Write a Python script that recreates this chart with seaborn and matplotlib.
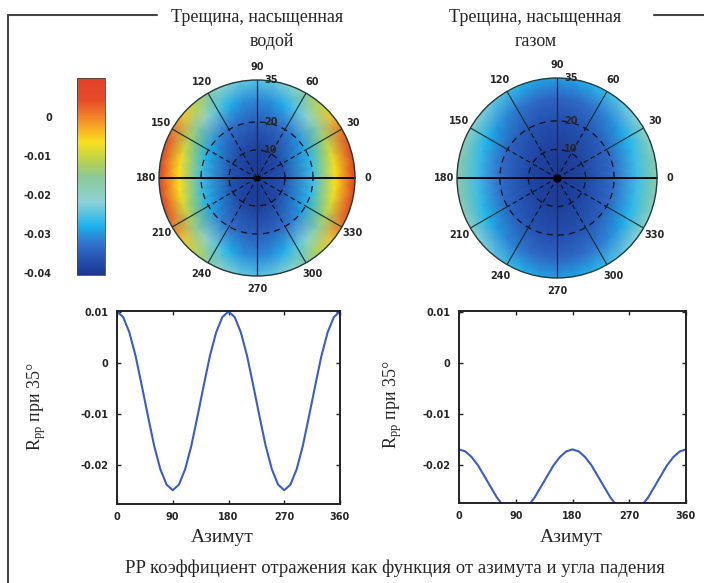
import matplotlib
matplotlib.use("Agg")
import matplotlib.pyplot as plt
import matplotlib.transforms as mtransforms
from matplotlib.cm import ScalarMappable
from matplotlib.colors import LinearSegmentedColormap, Normalize
from matplotlib.lines import Line2D
import numpy as np
import seaborn as sns

# azimuth grid (deg) and incidence rings (deg)
azimuth = list(range(0, 361, 10))
incidence = [0, 10, 20, 28, 35]

# water-saturated crack: Rpp at the pole and along each incidence ring
water_center = -0.040
water_r10 = [-0.0360, -0.0361, -0.0364, -0.0368, -0.0372, -0.0378, -0.0383, -0.0386, -0.0389, -0.0390,
             -0.0389, -0.0386, -0.0383, -0.0378, -0.0372, -0.0368, -0.0364, -0.0361, -0.0360,
             -0.0361, -0.0364, -0.0368, -0.0372, -0.0378, -0.0383, -0.0386, -0.0389, -0.0390,
             -0.0389, -0.0386, -0.0383, -0.0378, -0.0372, -0.0368, -0.0364, -0.0361, -0.0360]
water_r20 = [-0.0260, -0.0263, -0.0271, -0.0283, -0.0297, -0.0313, -0.0328, -0.0339, -0.0347, -0.0350,
             -0.0347, -0.0339, -0.0328, -0.0313, -0.0297, -0.0283, -0.0271, -0.0263, -0.0260,
             -0.0263, -0.0271, -0.0283, -0.0297, -0.0313, -0.0328, -0.0339, -0.0347, -0.0350,
             -0.0347, -0.0339, -0.0328, -0.0313, -0.0297, -0.0283, -0.0271, -0.0263, -0.0260]
water_r28 = [-0.0060, -0.0068, -0.0089, -0.0123, -0.0163, -0.0207, -0.0248, -0.0281, -0.0303, -0.0310,
             -0.0303, -0.0281, -0.0248, -0.0207, -0.0163, -0.0123, -0.0089, -0.0068, -0.0060,
             -0.0068, -0.0089, -0.0123, -0.0163, -0.0207, -0.0248, -0.0281, -0.0303, -0.0310,
             -0.0303, -0.0281, -0.0248, -0.0207, -0.0163, -0.0123, -0.0089, -0.0068, -0.0060]
water_r35 = [0.0100, 0.0089, 0.0059, 0.0013, -0.0045, -0.0105, -0.0163, -0.0209, -0.0239, -0.0250,
             -0.0239, -0.0209, -0.0163, -0.0105, -0.0045, 0.0013, 0.0059, 0.0089, 0.0100,
             0.0089, 0.0059, 0.0013, -0.0045, -0.0105, -0.0163, -0.0209, -0.0239, -0.0250,
             -0.0239, -0.0209, -0.0163, -0.0105, -0.0045, 0.0013, 0.0059, 0.0089, 0.0100]

# gas-saturated crack
gas_center = -0.040
gas_r10 = [-0.0380, -0.0380, -0.0381, -0.0383, -0.0384, -0.0386, -0.0388, -0.0389, -0.0390, -0.0390,
           -0.0390, -0.0389, -0.0388, -0.0386, -0.0384, -0.0383, -0.0381, -0.0380, -0.0380,
           -0.0380, -0.0381, -0.0383, -0.0384, -0.0386, -0.0388, -0.0389, -0.0390, -0.0390,
           -0.0390, -0.0389, -0.0388, -0.0386, -0.0384, -0.0383, -0.0381, -0.0380, -0.0380]
gas_r20 = [-0.0330, -0.0331, -0.0335, -0.0340, -0.0347, -0.0353, -0.0360, -0.0365, -0.0369, -0.0370,
           -0.0369, -0.0365, -0.0360, -0.0353, -0.0347, -0.0340, -0.0335, -0.0331, -0.0330,
           -0.0331, -0.0335, -0.0340, -0.0347, -0.0353, -0.0360, -0.0365, -0.0369, -0.0370,
           -0.0369, -0.0365, -0.0360, -0.0353, -0.0347, -0.0340, -0.0335, -0.0331, -0.0330]
gas_r28 = [-0.0260, -0.0262, -0.0269, -0.0280, -0.0293, -0.0307, -0.0320, -0.0331, -0.0338, -0.0340,
           -0.0338, -0.0331, -0.0320, -0.0307, -0.0293, -0.0280, -0.0269, -0.0262, -0.0260,
           -0.0262, -0.0269, -0.0280, -0.0293, -0.0307, -0.0320, -0.0331, -0.0338, -0.0340,
           -0.0338, -0.0331, -0.0320, -0.0307, -0.0293, -0.0280, -0.0269, -0.0262, -0.0260]
gas_r35 = [-0.0170, -0.0174, -0.0185, -0.0201, -0.0222, -0.0243, -0.0264, -0.0280, -0.0291, -0.0295,
           -0.0291, -0.0280, -0.0264, -0.0243, -0.0222, -0.0201, -0.0185, -0.0174, -0.0170,
           -0.0174, -0.0185, -0.0201, -0.0222, -0.0243, -0.0264, -0.0280, -0.0291, -0.0295,
           -0.0291, -0.0280, -0.0264, -0.0243, -0.0222, -0.0201, -0.0185, -0.0174, -0.0170]

cbar_ticks = [0, -0.01, -0.02, -0.03, -0.04]
cbar_labels = ["0", "-0.01", "-0.02", "-0.03", "-0.04"]
line_xticks = [0, 90, 180, 270, 360]
line_yticks = [0.01, 0, -0.01, -0.02]
line_ylabels = ["0.01", "0", "-0.01", "-0.02"]
spoke_angles = list(range(0, 360, 30))
ring_labels = [(35, "35"), (20, "20"), (10, "10")]

W, H = 704, 583

sns.set_theme(style="ticks")
plt.rcParams["font.family"] = ["Liberation Serif", "DejaVu Serif"]
plt.rcParams["axes.unicode_minus"] = False
plt.rcParams["mathtext.default"] = "regular"

cmap = LinearSegmentedColormap.from_list("rpp", [
    (0.00, (25 / 255, 55 / 255, 145 / 255)),
    (0.06, (35 / 255, 75 / 255, 170 / 255)),
    (0.16, (50 / 255, 115 / 255, 205 / 255)),
    (0.25, (30 / 255, 180 / 255, 235 / 255)),
    (0.37, (140 / 255, 210 / 255, 215 / 255)),
    (0.50, (140 / 255, 200 / 255, 150 / 255)),
    (0.59, (190 / 255, 210 / 255, 70 / 255)),
    (0.675, (250 / 255, 225 / 255, 30 / 255)),
    (0.79, (245 / 255, 140 / 255, 40 / 255)),
    (0.89, (230 / 255, 75 / 255, 40 / 255)),
    (1.00, (225 / 255, 65 / 255, 40 / 255)),
])
norm = Normalize(vmin=-0.0405, vmax=0.0100)

fig = plt.figure(figsize=(W / 100, H / 100), dpi=100)
fig.patch.set_facecolor("white")


def px_rect(x0, y0, x1, y1):
    return [x0 / W, 1 - y1 / H, (x1 - x0) / W, (y1 - y0) / H]


TICKFONT = dict(family="DejaVu Sans", fontweight="bold", fontsize=7)


def draw_polar(rect, center, rings, dot):
    ax = fig.add_axes(rect, projection="polar")
    theta = np.deg2rad(azimuth)
    tt, rr = np.meshgrid(theta, incidence)
    field = np.vstack([np.full(len(azimuth), center)] + [np.asarray(r) for r in rings])
    ax.pcolormesh(tt, rr, field, shading="gouraud", cmap=cmap, norm=norm)
    ax.set_ylim(0, 35)
    ax.grid(False)
    ax.set_xticks([])
    ax.set_yticks([])
    ax.spines["polar"].set_color("#1f3a3a")
    ax.spines["polar"].set_linewidth(1.0)

    circ = np.linspace(0, 2 * np.pi, 300)
    for r in (10, 20):
        ax.plot(circ, np.full_like(circ, r), color="#111111", lw=0.9, ls=(0, (5, 4)))
    for ang in spoke_angles:
        t = np.deg2rad(ang)
        if ang in (0, 180):
            ax.plot([t, t], [0, 35], color="black", lw=1.3)
        elif ang in (90, 270):
            ax.plot([t, t], [0, 35], color="#1a2660", lw=0.9)
        else:
            ax.plot([t, t], [20, 35], color="#103030", lw=0.8)
            ax.plot([t, t], [0, 20], color="#111111", lw=0.8, ls=(0, (4, 3)))
        ax.text(t, 35 * 1.13, str(ang), ha="center", va="center", **TICKFONT)
    ax.plot(0, 0, "o", color="black", ms=dot)

    offs = mtransforms.offset_copy(ax.transData, fig=fig, x=7, y=0, units="dots")
    for r, lab in ring_labels:
        ax.text(np.pi / 2, r, lab, transform=offs, ha="left", va="center", **TICKFONT)
    return ax


def draw_line(rect, values, ymin):
    ax = fig.add_axes(rect)
    sns.lineplot(x=azimuth, y=values, ax=ax, color="#3a5cc6", lw=1.5)
    ax.set_xlim(0, 360)
    ax.set_ylim(ymin, 0.0101)
    ax.set_xticks(line_xticks)
    ax.set_xticklabels([str(v) for v in line_xticks], **TICKFONT)
    ax.set_yticks(line_yticks)
    ax.set_yticklabels(line_ylabels, **TICKFONT)
    ax.tick_params(direction="in", top=True, right=True, length=3, width=1.0,
                   color="#222222", pad=6)
    for s in ax.spines.values():
        s.set_linewidth(1.4)
        s.set_color("#222222")
    return ax


draw_polar(px_rect(159, 80, 355, 276), water_center,
           [water_r10, water_r20, water_r28, water_r35], 3)
draw_polar(px_rect(457, 78, 657, 278), gas_center,
           [gas_r10, gas_r20, gas_r28, gas_r35], 5)

cax = fig.add_axes(px_rect(77, 78, 105, 275))
cb = fig.colorbar(ScalarMappable(norm=norm, cmap=cmap), cax=cax)
cb.set_ticks(cbar_ticks)
cax.set_yticklabels(cbar_labels, **TICKFONT)
cax.yaxis.set_ticks_position("left")
cax.tick_params(length=0, pad=18)
cb.outline.set_linewidth(0.6)
cb.outline.set_edgecolor("#444444")

draw_line(px_rect(117, 311, 340, 504), water_r35, -0.0277)
draw_line(px_rect(459, 311, 686, 503), gas_r35, -0.0275)

# titles and labels
fig.text(257 / W, 1 - 18 / H, "Трещина, насыщенная", ha="center", va="center", fontsize=13)
fig.text(272 / W, 1 - 42 / H, "водой", ha="center", va="center", fontsize=13)
fig.text(535 / W, 1 - 18 / H, "Трещина, насыщенная", ha="center", va="center", fontsize=13)
fig.text(536 / W, 1 - 42 / H, "газом", ha="center", va="center", fontsize=13)

fig.text(222 / W, 1 - 538 / H, "Азимут", ha="center", va="center", fontsize=14)
fig.text(571 / W, 1 - 537 / H, "Азимут", ha="center", va="center", fontsize=14)
fig.text(37 / W, 1 - 407 / H, "$R_{pp}$ при 35°", ha="center", va="center",
         rotation=90, fontsize=13)
fig.text(393 / W, 1 - 405 / H, "$R_{pp}$ при 35°", ha="center", va="center",
         rotation=90, fontsize=13)
fig.text(395 / W, 1 - 568 / H,
         "PP коэффициент отражения как функция от азимута и угла падения",
         ha="center", va="center", fontsize=13.5)

# outer frame pieces
frame = dict(color="#444444", lw=1.5, transform=fig.transFigure)
fig.add_artist(Line2D([8 / W, 157 / W], [1 - 15 / H, 1 - 15 / H], **frame))
fig.add_artist(Line2D([654 / W, 1.0], [1 - 15 / H, 1 - 15 / H], **frame))
fig.add_artist(Line2D([8 / W, 8 / W], [1 - 15 / H, 0.0], **frame))

fig.savefig("out.png", dpi=100, facecolor="white")
